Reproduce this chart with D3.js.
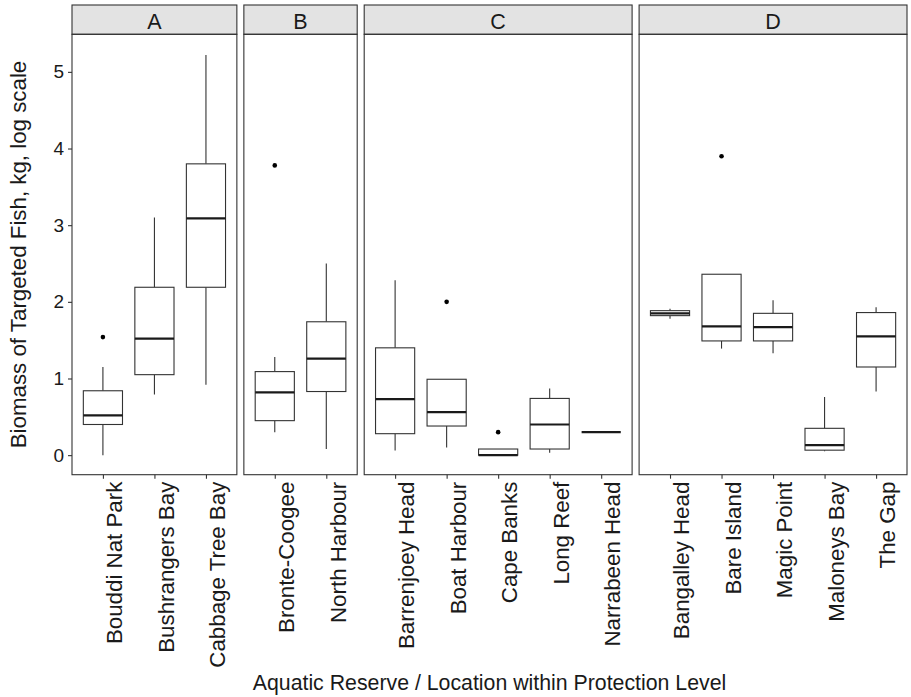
<!DOCTYPE html>
<html>
<head>
<meta charset="utf-8">
<script src="https://cdn.jsdelivr.net/npm/d3@7"></script>
<style>
  body { margin: 0; background: #fff; }
  text { font-family: 'Liberation Sans', Arial, sans-serif; fill: #1a1a1a; }
</style>
</head>
<body>
<div id="chart"></div>
<script>
// protection levels (facets) and the locations in each
var facets = ['A', 'B', 'C', 'D'];
var locations = {
  A: ['Bouddi Nat Park', 'Bushrangers Bay', 'Cabbage Tree Bay'],
  B: ['Bronte-Coogee', 'North Harbour'],
  C: ['Barrenjoey Head', 'Boat Harbour', 'Cape Banks', 'Long Reef', 'Narrabeen Head'],
  D: ['Bangalley Head', 'Bare Island', 'Magic Point', 'Maloneys Bay', 'The Gap']
};

// box stats, in the order of locations above
var lowerWhisker = [0.00, 0.79, 0.92,  0.30, 0.08,  0.06, 0.10, 0.00, 0.03, 0.30,  1.78, 1.39, 1.33, 0.05, 0.83];
var q1           = [0.40, 1.05, 2.19,  0.45, 0.83,  0.28, 0.38, 0.00, 0.08, 0.30,  1.82, 1.49, 1.49, 0.065, 1.15];
var medians      = [0.52, 1.52, 3.09,  0.82, 1.26,  0.73, 0.56, 0.00, 0.40, 0.30,  1.85, 1.68, 1.67, 0.13, 1.55];
var q3           = [0.84, 2.19, 3.80,  1.09, 1.74,  1.40, 0.99, 0.08, 0.74, 0.30,  1.885, 2.36, 1.85, 0.35, 1.86];
var upperWhisker = [1.15, 3.10, 5.22,  1.28, 2.50,  2.28, 0.99, 0.08, 0.87, 0.30,  1.91, 2.36, 2.02, 0.76, 1.93];
var outliers     = [[1.54], [], [],  [3.78], [],  [], [2.00], [0.30], [], [],  [], [3.90], [], [], []];

var yTicks = [0, 1, 2, 3, 4, 5];

var width = 911, height = 697;
var plotLeft = 72, plotRight = 907, gap = 7;
var stripTop = 5, stripH = 29.3, panelBottom = 474.7;
var panelTop = stripTop + stripH;

var svg = d3.select('#chart').append('svg')
  .attr('width', width)
  .attr('height', height);

var yScale = d3.scaleLinear()
  .domain([-0.255, 5.49])
  .range([panelBottom, panelTop]);

// panel widths follow the number of locations (free space)
var units = facets.map(function(f) { return locations[f].length - 1 + 1.2; });
var unitTotal = d3.sum(units);
var unitPx = (plotRight - plotLeft - gap * (facets.length - 1)) / unitTotal;

var rows = [];
var k = 0;
facets.forEach(function(f) {
  locations[f].forEach(function(loc) {
    rows.push({
      facet: f, loc: loc,
      lo: lowerWhisker[k], q1: q1[k], med: medians[k], q3: q3[k], hi: upperWhisker[k],
      out: outliers[k]
    });
    k++;
  });
});

var x0 = plotLeft;
facets.forEach(function(f, fi) {
  var w = units[fi] * unitPx;
  var xScale = d3.scalePoint()
    .domain(locations[f])
    .range([0, w])
    .padding(0.6);
  var boxW = xScale.step() * 0.76;

  var g = svg.append('g').attr('transform', 'translate(' + x0 + ',0)');

  // strip
  g.append('rect')
    .attr('x', 0).attr('y', stripTop)
    .attr('width', w).attr('height', stripH)
    .attr('fill', '#e3e3e3')
    .attr('stroke', '#333').attr('stroke-width', 1.1);
  g.append('text')
    .attr('x', w / 2).attr('y', stripTop + stripH - 5)
    .attr('text-anchor', 'middle')
    .style('font-size', '21.5px')
    .text(f);

  var data = rows.filter(function(r) { return r.facet === f; });
  var boxes = g.selectAll('.box').data(data).join('g')
    .attr('class', 'box')
    .attr('transform', function(d) { return 'translate(' + xScale(d.loc) + ',0)'; });

  boxes.append('line')
    .attr('y1', function(d) { return yScale(d.hi); })
    .attr('y2', function(d) { return yScale(d.q3); })
    .attr('stroke', '#333').attr('stroke-width', 1.1);
  boxes.append('line')
    .attr('y1', function(d) { return yScale(d.q1); })
    .attr('y2', function(d) { return yScale(d.lo); })
    .attr('stroke', '#333').attr('stroke-width', 1.1);
  boxes.append('rect')
    .attr('x', -boxW / 2)
    .attr('y', function(d) { return yScale(d.q3); })
    .attr('width', boxW)
    .attr('height', function(d) { return yScale(d.q1) - yScale(d.q3); })
    .attr('fill', '#fff')
    .attr('stroke', '#333').attr('stroke-width', 1.1);
  boxes.append('line')
    .attr('x1', -boxW / 2).attr('x2', boxW / 2)
    .attr('y1', function(d) { return yScale(d.med); })
    .attr('y2', function(d) { return yScale(d.med); })
    .attr('stroke', '#1a1a1a').attr('stroke-width', 2.2);
  boxes.selectAll('circle')
    .data(function(d) { return d.out; })
    .join('circle')
    .attr('cy', function(v) { return yScale(v); })
    .attr('r', 2.3)
    .attr('fill', '#000');

  // panel border
  g.append('rect')
    .attr('x', 0).attr('y', panelTop)
    .attr('width', w).attr('height', panelBottom - panelTop)
    .attr('fill', 'none')
    .attr('stroke', '#333').attr('stroke-width', 1.1);

  // x axis
  var xAxis = g.append('g')
    .attr('transform', 'translate(0,' + panelBottom + ')')
    .call(d3.axisBottom(xScale).tickSize(4).tickSizeOuter(0));
  xAxis.select('.domain').remove();
  xAxis.selectAll('.tick line').attr('stroke', '#333').attr('stroke-width', 1.1);
  xAxis.selectAll('.tick text')
    .attr('transform', 'rotate(-90)')
    .attr('x', -7).attr('y', 0).attr('dy', '0.84em')
    .attr('text-anchor', 'end')
    .style('font-size', '22.3px')
    .style('fill', '#1a1a1a');

  // y axis only on the first panel
  if (fi === 0) {
    var yAxis = svg.append('g')
      .attr('transform', 'translate(' + plotLeft + ',0)')
      .call(d3.axisLeft(yScale).tickValues(yTicks).tickFormat(d3.format('d')).tickSize(4).tickSizeOuter(0));
    yAxis.select('.domain').remove();
    yAxis.selectAll('.tick line').attr('stroke', '#333').attr('stroke-width', 1.1);
    yAxis.selectAll('.tick text')
      .attr('x', -8)
      .style('font-size', '19px')
      .style('fill', '#1a1a1a');
  }

  x0 += w + gap;
});

// axis titles
svg.append('text')
  .attr('x', (plotLeft + plotRight) / 2)
  .attr('y', 690)
  .attr('text-anchor', 'middle')
  .style('font-size', '21.3px')
  .text('Aquatic Reserve / Location within Protection Level');

svg.append('text')
  .attr('transform', 'translate(26,' + (panelTop + panelBottom) / 2 + ') rotate(-90)')
  .attr('text-anchor', 'middle')
  .style('font-size', '22.3px')
  .text('Biomass of Targeted Fish, kg, log scale');
</script>
</body>
</html>
